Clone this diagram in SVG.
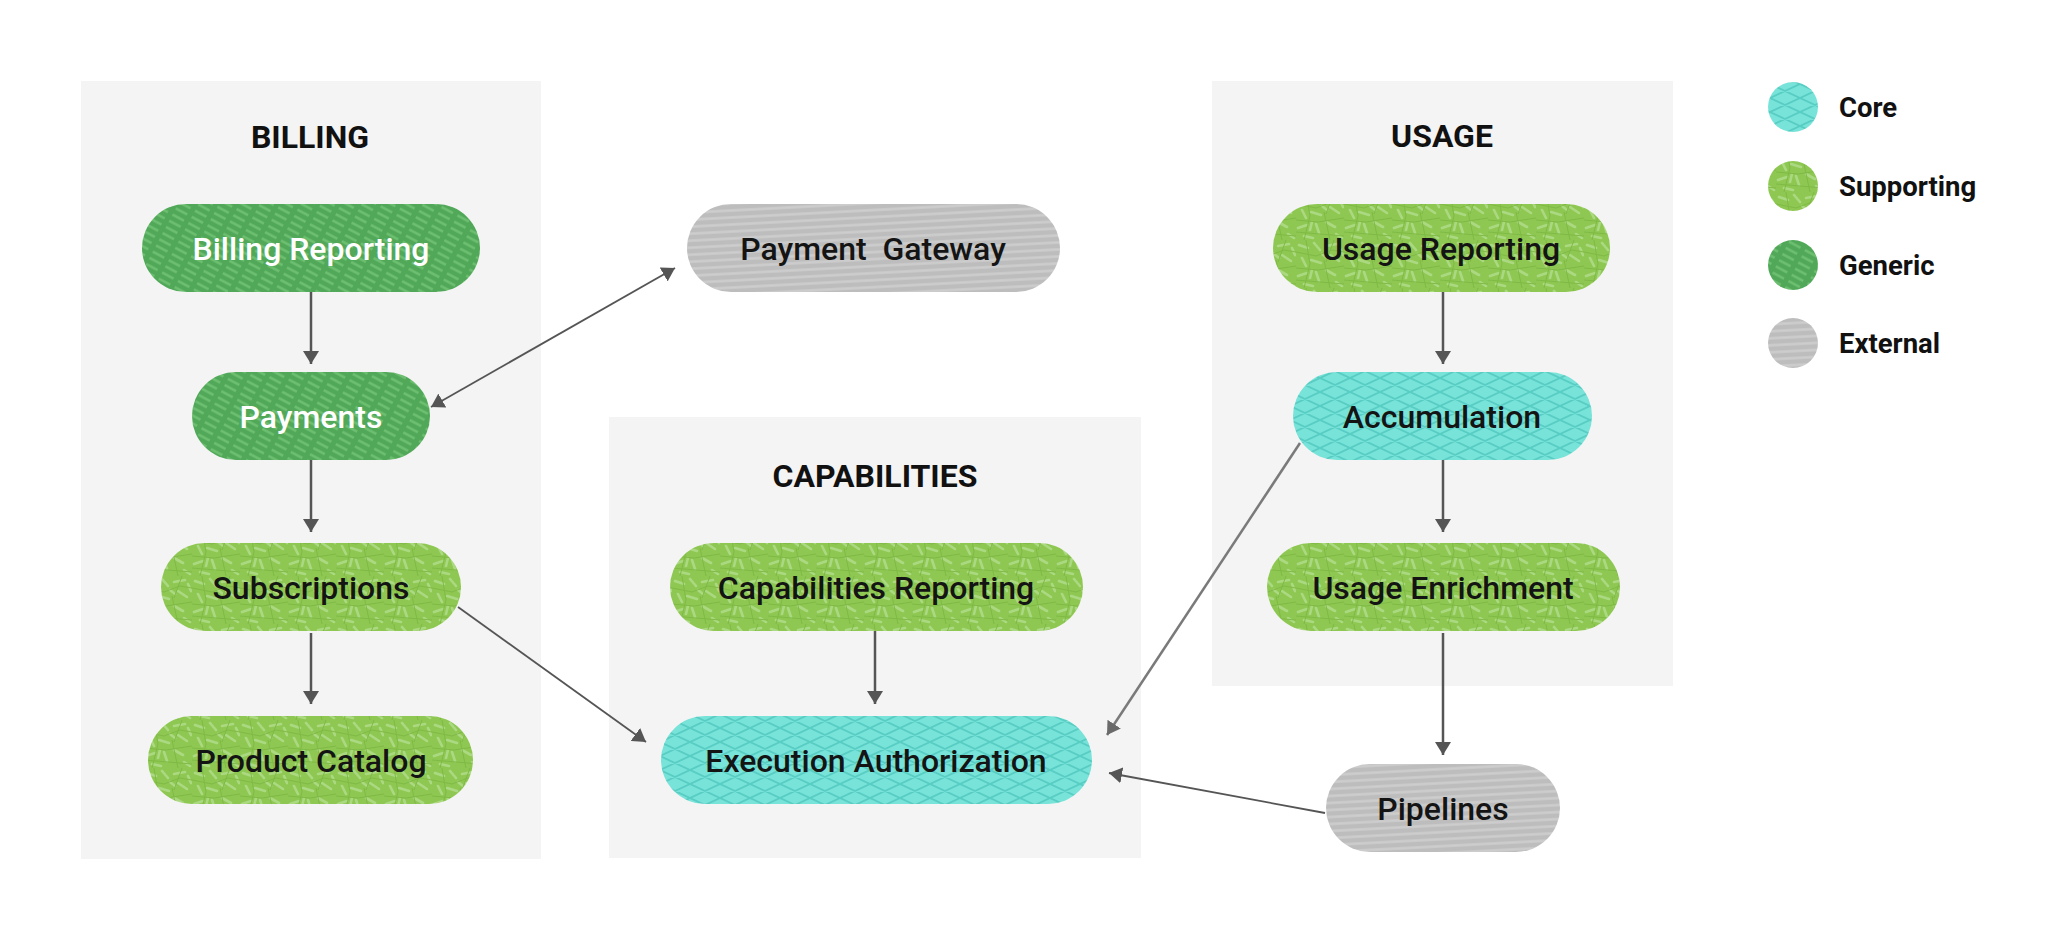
<svg xmlns="http://www.w3.org/2000/svg" width="2048" height="942" viewBox="0 0 2048 942">
<style>
.panel{fill:#f4f4f4}
.title{font-family:Roboto,"Liberation Sans",sans-serif;font-weight:700;font-size:32px;fill:#111;text-anchor:middle}
.lbl{font-family:Roboto,"Liberation Sans",sans-serif;font-weight:500;font-size:32px;fill:#141414;text-anchor:middle}
.lbl.w{fill:#ffffff}
.leg{font-family:Roboto,"Liberation Sans",sans-serif;font-weight:700;font-size:27.5px;fill:#111}
.core{fill:url(#pCore)}
.sup{fill:url(#pSup)}
.gen{fill:url(#pGen)}
.ext{fill:url(#pExt)}
.c{stroke:#555;stroke-width:2.5;fill:none;marker-end:url(#ah)}
.c.thin{stroke-width:1.8}
.c.light{stroke:#7a7a7a;stroke-width:2.5;marker-end:url(#ahL)}
</style>
<defs>
<pattern id="pCore" patternUnits="userSpaceOnUse" width="30" height="14">
<rect width="30" height="14" fill="#78e3d9"/>
<path d="M-30,-28 L60,14 M-30,-14 L60,28 M-30,0 L60,42 M-30,28 L60,-14 M-30,42 L60,0 M-30,14 L60,-28" stroke="#58cdc3" stroke-width="1.8" fill="none"/>
</pattern>
<pattern id="pGen" patternUnits="userSpaceOnUse" width="18" height="7" patternTransform="rotate(28)">
<rect x="-2" y="-2" width="22" height="11" fill="#50a858"/>
<line x1="1" y1="3.5" x2="14" y2="3.5" stroke="#6fc072" stroke-width="2.4"/>
</pattern>
<pattern id="pExt" patternUnits="userSpaceOnUse" width="40" height="7" patternTransform="rotate(-3)">
<rect x="-2" y="-2" width="44" height="11" fill="#bdbdbd"/>
<line x1="-2" y1="3.5" x2="42" y2="3.5" stroke="#cdcdcd" stroke-width="2.6"/>
</pattern>
<pattern id="pSup" patternUnits="userSpaceOnUse" width="48" height="48">
<rect width="48" height="48" fill="#8ec852"/>
<g stroke="#abd981" stroke-width="2.6" stroke-linecap="round" fill="none">
<path d="M3,5 L12,8 M18,3 L24,10 M30,6 L41,4 M6,18 L10,26 M15,20 L25,23 M34,15 L43,21 M2,36 L11,33 M20,32 L23,41 M30,30 L39,35 M40,42 L46,46 M8,44 L17,46 M44,8 L47,15 M26,14 L31,18 M14,38 L16,30"/>
</g>
<g stroke="#7fba45" stroke-width="1" fill="none">
<path d="M0,12 L20,16 L36,10 L48,12 M10,0 L14,24 L8,48 M28,20 L34,48 M0,28 L22,30 L48,26 M38,0 L30,22 M0,40 L48,44"/>
</g>
</pattern>
<marker id="ah" markerUnits="userSpaceOnUse" viewBox="0 0 13 16" refX="13" refY="8" markerWidth="13" markerHeight="16" orient="auto-start-reverse">
<path d="M0,0 L13,8 L0,16 Z" fill="#555"/>
</marker>
<marker id="ahL" markerUnits="userSpaceOnUse" viewBox="0 0 13 16" refX="13" refY="8" markerWidth="13" markerHeight="16" orient="auto-start-reverse">
<path d="M0,0 L13,8 L0,16 Z" fill="#6a6a6a"/>
</marker>
</defs>
<rect width="2048" height="942" fill="#ffffff"/>
<g id="panels">
<rect class="panel" x="81" y="81" width="460" height="778"/>
<rect class="panel" x="609" y="417" width="532" height="441"/>
<rect class="panel" x="1212" y="81" width="461" height="605"/>
<text class="title" x="310" y="148">BILLING</text>
<text class="title" x="875" y="487">CAPABILITIES</text>
<text class="title" x="1442" y="147">USAGE</text>
</g>
<g id="connectors">
<line class="c" x1="311" y1="292" x2="311" y2="364"/>
<line class="c" x1="311" y1="460" x2="311" y2="532"/>
<line class="c" x1="311" y1="633" x2="311" y2="704"/>
<line class="c thin" x1="431" y1="407" x2="675" y2="268" style="marker-start:url(#ah)"/>
<line class="c thin" x1="458" y1="607" x2="646" y2="742"/>
<line class="c" x1="875" y1="631" x2="875" y2="704"/>
<line class="c light" x1="1300" y1="443" x2="1107" y2="735"/>
<line class="c thin" x1="1325" y1="813" x2="1109" y2="773"/>
<line class="c" x1="1443" y1="292" x2="1443" y2="364"/>
<line class="c" x1="1443" y1="460" x2="1443" y2="532"/>
<line class="c" x1="1443" y1="633" x2="1443" y2="755"/>
</g>
<g id="billing-reporting"><rect class="gen" x="142" y="204" width="338" height="88" rx="44"/><text class="lbl w" x="311" y="260">Billing Reporting</text></g>
<g id="payments"><rect class="gen" x="192" y="372" width="238" height="88" rx="44"/><text class="lbl w" x="311" y="428">Payments</text></g>
<g id="subscriptions"><rect class="sup" x="161" y="543" width="300" height="88" rx="44"/><text class="lbl" x="311" y="599">Subscriptions</text></g>
<g id="product-catalog"><rect class="sup" x="148" y="716" width="325" height="88" rx="44"/><text class="lbl" x="311" y="772">Product Catalog</text></g>
<g id="payment-gateway"><rect class="ext" x="687" y="204" width="373" height="88" rx="44"/><text class="lbl" x="873" y="260" xml:space="preserve">Payment  Gateway</text></g>
<g id="capabilities-reporting"><rect class="sup" x="670" y="543" width="413" height="88" rx="44"/><text class="lbl" x="876" y="599">Capabilities Reporting</text></g>
<g id="execution-authorization"><rect class="core" x="661" y="716" width="431" height="88" rx="44"/><text class="lbl" x="876" y="772">Execution Authorization</text></g>
<g id="usage-reporting"><rect class="sup" x="1273" y="204" width="337" height="88" rx="44"/><text class="lbl" x="1441" y="260">Usage Reporting</text></g>
<g id="accumulation"><rect class="core" x="1293" y="372" width="299" height="88" rx="44"/><text class="lbl" x="1442" y="428">Accumulation</text></g>
<g id="usage-enrichment"><rect class="sup" x="1267" y="543" width="353" height="88" rx="44"/><text class="lbl" x="1443" y="599">Usage Enrichment</text></g>
<g id="pipelines"><rect class="ext" x="1326" y="764" width="234" height="88" rx="44"/><text class="lbl" x="1443" y="820">Pipelines</text></g>
<g id="legend">
<circle class="core" cx="1793" cy="107" r="25"/><text class="leg" x="1839" y="117">Core</text>
<circle class="sup" cx="1793" cy="186" r="25"/><text class="leg" x="1839" y="196">Supporting</text>
<circle class="gen" cx="1793" cy="265" r="25"/><text class="leg" x="1839" y="275">Generic</text>
<circle class="ext" cx="1793" cy="343" r="25"/><text class="leg" x="1839" y="353">External</text>
</g>
</svg>
